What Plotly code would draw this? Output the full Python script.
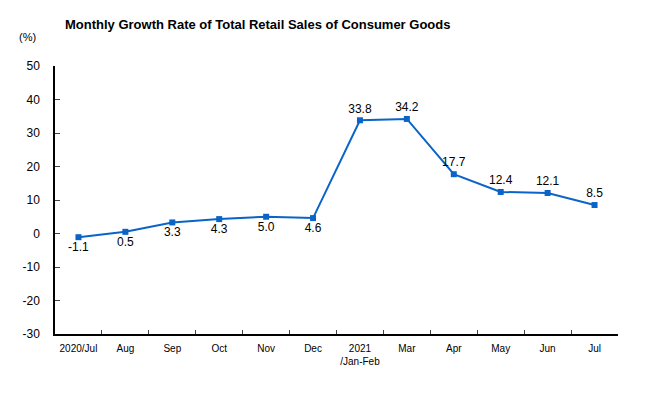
import plotly.graph_objects as go

categories = ["2020/Jul", "Aug", "Sep", "Oct", "Nov", "Dec", "2021<br>/Jan-Feb",
              "Mar", "Apr", "May", "Jun", "Jul"]
values = [-1.1, 0.5, 3.3, 4.3, 5.0, 4.6, 33.8, 34.2, 17.7, 12.4, 12.1, 8.5]
labels = ["-1.1", "0.5", "3.3", "4.3", "5.0", "4.6", "33.8", "34.2", "17.7", "12.4", "12.1", "8.5"]
label_pos = ["bottom center"] * 6 + ["top center"] * 6
y_ticks = [-30, -20, -10, 0, 10, 20, 30, 40, 50]
y_tick_text = ["-30", "-20", "-10", "0", "10", "20", "30", "40", "50"]

FONT = "Liberation Sans, Arial, sans-serif"
PW, PH, L, T = 563, 268, 55, 66

fig = go.Figure()
fig.add_trace(go.Scatter(
    x=categories, y=values, mode="lines+markers+text",
    text=labels, textposition=label_pos,
    textfont=dict(family=FONT, size=12, color="#000000"),
    line=dict(color="#0a64c8", width=2),
    marker=dict(symbol="square", size=6, color="#0a64c8"),
    cliponaxis=False, showlegend=False,
))

fig.update_layout(
    width=648, height=396,
    margin=dict(l=L, r=30, t=T, b=62, autoexpand=False),
    paper_bgcolor="white", plot_bgcolor="white",
    font=dict(family=FONT, color="#000000"),
    annotations=[
        dict(text="<b>Monthly Growth Rate of Total Retail Sales of Consumer Goods</b>",
             xref="paper", yref="paper", x=(257.5 - L) / PW, y=1 + (T - 25) / PH,
             xanchor="center", yanchor="middle", showarrow=False,
             font=dict(family=FONT, size=13, color="#000000")),
        dict(text="(%)", xref="paper", yref="paper", x=(27 - L) / PW, y=1 + (T - 37) / PH,
             xanchor="center", yanchor="middle", showarrow=False,
             font=dict(family=FONT, size=11, color="#000000")),
    ],
)

fig.update_xaxes(
    type="category", tickson="boundaries", ticks="inside", ticklen=4,
    showline=True, linecolor="#000000", linewidth=1.5, showgrid=False,
    tickfont=dict(family=FONT, size=10), tickangle=0, automargin=False,
    ticklabelstandoff=4, range=[-0.5, 11.5],
)
fig.update_yaxes(
    range=[-30, 50], tickvals=y_ticks, ticktext=y_tick_text, ticks="inside", ticklen=5,
    showline=True, linecolor="#000000", linewidth=1.5, showgrid=False, zeroline=False,
    tickfont=dict(family=FONT, size=12), ticklabelstandoff=11, automargin=False,
)

fig.write_html("out.html", config={"displayModeBar": False},
               post_script="document.body.style.margin='0px';")
